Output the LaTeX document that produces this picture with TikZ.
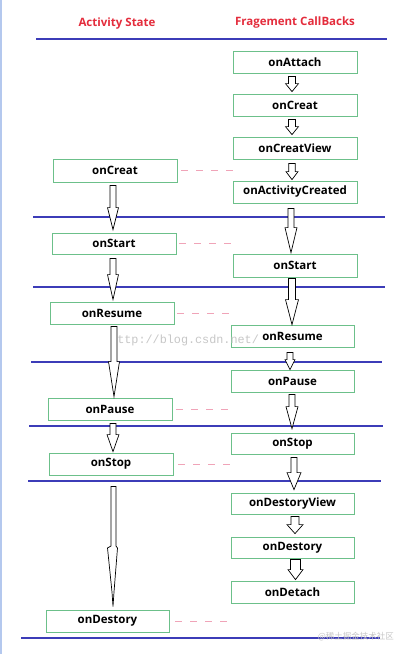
\documentclass[tikz,border=0pt]{standalone}
\usepackage{fontspec}
\setmainfont{Open Sans}
\newfontfamily\wmmono{Liberation Mono}
\newfontfamily\cjk{Noto Sans CJK SC}
\usetikzlibrary{calc}
\definecolor{hdrred}{HTML}{E42C3C}
\definecolor{sepblue}{HTML}{3C3CB8}
\definecolor{boxgreen}{HTML}{6CC08A}
\definecolor{dashpink}{HTML}{F0A4B8}
\definecolor{edgeblue}{HTML}{B4C8EE}
\tikzset{
  cbox/.style={draw=boxgreen, line width=0.8pt, fill=white, inner sep=0pt,
    minimum width=124pt, minimum height=22pt, font=\fontsize{11.5}{13}\selectfont\bfseries},
  hdr/.style={text=hdrred, inner sep=0pt, font=\fontsize{11.5}{13}\selectfont\bfseries},
  sepline/.style={draw=sepblue, line width=2.2pt},
  pinkdash/.style={draw=dashpink, line width=0.9pt, dash pattern=on 7pt off 8pt},
  blockarrow/.style={draw=black, line width=0.7pt, fill=white, line join=miter},
}
% #1 x centre, #2 from node, #3 to node, #4 half shaft, #5 half head, #6 head length, #7 top gap, #8 bottom gap
\newcommand\barrow[8]{%
  \draw[blockarrow] let \p1=(#2.south), \p2=(#3.north),
    \n1={\y1-#7pt}, \n2={\y2+#8pt}, \n3={\y2+#8pt+#6pt} in
    (#1pt-#4pt,\n1) -- (#1pt+#4pt,\n1) -- (#1pt+#4pt,\n3) -- (#1pt+#5pt,\n3)
    -- (#1pt,\n2) -- (#1pt-#5pt,\n3) -- (#1pt-#4pt,\n3) -- cycle;}
\begin{document}
\begin{tikzpicture}[x=1pt,y=-1pt]
\useasboundingbox[fill=white] (0,0) rectangle (407,654);
\draw[edgeblue, line width=2pt] (1,0) -- (1,654);

% headers
\node[hdr] (hA) at (117,24) {Activity State};
\node[hdr] (hF) at (295,23) {Fragement CallBacks};

% separator lines
\draw[sepline] (36,39) -- (387,39);
\draw[sepline] (33,217) -- (385,217);
\draw[sepline] (33,287) -- (385,287);
\draw[sepline] (31,362) -- (382,362);
\draw[sepline] (29,426) -- (383,426);
\draw[sepline] (28,481) -- (381,481);
\draw[sepline] (21,638) -- (380,638);

% fragment callbacks
\node[cbox] (fattach) at (295,62) {onAttach};
\node[cbox] (fcreat) at (295,105) {onCreat};
\node[cbox] (fcview) at (295,148) {onCreatView};
\node[cbox] (factc) at (295,192) {onActivityCreated};
\node[cbox, minimum height=23pt] (fstart) at (295,265.5) {onStart};
\node[cbox, minimum width=123pt] (fresume) at (292.5,336) {onResume};
\node[cbox, minimum width=123pt] (fpause) at (292.5,381) {onPause};
\node[cbox, minimum width=123pt, minimum height=21pt] (fstop) at (292.5,443.5) {onStop};
\node[cbox, minimum width=123pt, minimum height=21pt] (fdview) at (292.5,503.5) {onDestoryView};
\node[cbox, minimum width=123pt, minimum height=21pt] (fdest) at (292.5,547.5) {onDestory};
\node[cbox, minimum width=123pt] (fdetach) at (292.5,592) {onDetach};

% activity states
\node[cbox, minimum height=23pt] (acreat) at (115,170.5) {onCreat};
\node[cbox, minimum height=21pt] (astart) at (114,243.5) {onStart};
\node[cbox] (aresume) at (112,313) {onResume};
\node[cbox] (apause) at (110,409) {onPause};
\node[cbox] (astop) at (111,464) {onStop};
\node[cbox, minimum width=123pt] (adest) at (107.5,621) {onDestory};

% watermark (csdn)
\node[text=black!22, inner sep=0pt, anchor=west, font=\wmmono\fontsize{11.8}{13}\selectfont] (wm1) at (110,340) {http://blog.csdn.net/};
\node[text=black!22, inner sep=0pt, anchor=east, font=\cjk\fontsize{8.5}{10}\selectfont] (wm2) at (394,637) {@稀土掘金技术社区};

% dashed links
\draw[pinkdash] ([xshift=4pt]acreat.east) -- ([xshift=61pt]acreat.east);
\draw[pinkdash] ([xshift=3pt]astart.east) -- ([xshift=61pt]astart.east);
\draw[pinkdash] ([xshift=3pt]aresume.east) -- ([xshift=61pt]aresume.east);
\draw[pinkdash] ([xshift=4pt]apause.east) -- ([xshift=61pt]apause.east);
\draw[pinkdash] ([xshift=5pt]astop.east) -- ([xshift=62pt]astop.east);
\draw[pinkdash] ([xshift=6pt]adest.east) -- ([xshift=63pt]adest.east);

% fragment arrows
\barrow{292}{fattach}{fcreat}{3.5}{6.5}{8}{3}{2}
\barrow{292}{fcreat}{fcview}{3.5}{6.5}{8}{3}{2}
\barrow{292}{fcview}{factc}{3.3}{6}{8}{4}{1}
\barrow{291}{factc}{fstart}{3}{6}{25}{5}{1}
\barrow{292}{fstart}{fresume}{3.5}{6.5}{25}{1}{0}
\barrow{290}{fresume}{fpause}{3}{5}{10}{5}{0}
\barrow{292}{fpause}{fstop}{3}{6}{22}{2}{4}
\barrow{294}{fstop}{fdview}{3}{7}{17}{3}{3}
\barrow{295}{fdview}{fdest}{4}{8}{9}{2}{3}
\barrow{295.5}{fdest}{fdetach}{5}{7.5}{10}{1}{1}

% activity arrows
\barrow{113}{acreat}{astart}{3}{5.5}{22}{3}{3}
\barrow{113}{astart}{aresume}{3}{5.5}{25}{4}{2}
\barrow{114}{aresume}{apause}{3}{5.5}{35}{2}{1}
\barrow{113}{apause}{astop}{3}{6}{17}{3}{1}
\draw[blockarrow] let \p1=(astop.south), \p2=(adest.north) in
  (111pt,\y1-11pt) -- (116pt,\y1-11pt) -- (116pt,-546pt) -- (117.5pt,-548pt)
  -- (114pt,-592pt) -- (113pt,\y2+3pt) -- (112pt,-592pt) -- (107.5pt,-548pt)
  -- (111pt,-546pt) -- cycle;
\end{tikzpicture}
\end{document}
